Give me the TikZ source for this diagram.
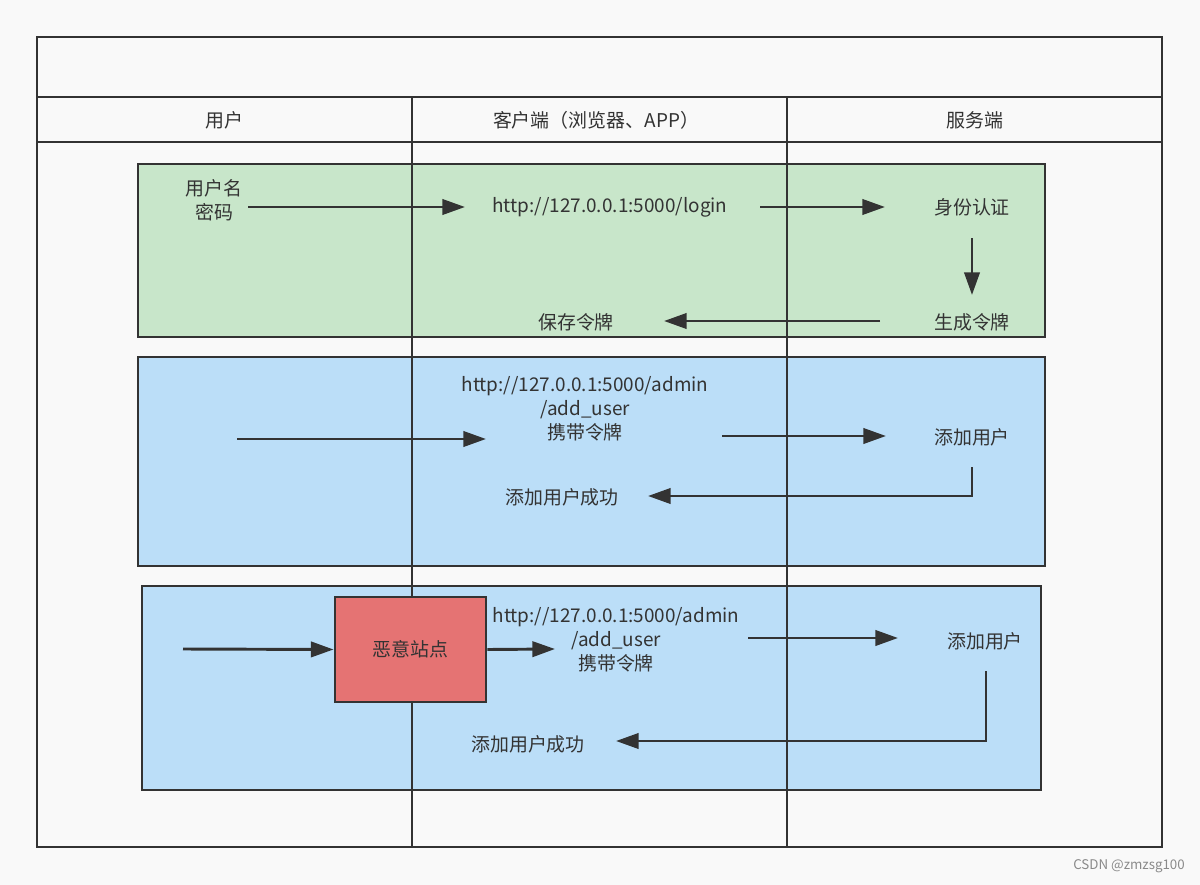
\documentclass[tikz,border=0pt]{standalone}
\usepackage{fontspec}
\setmainfont{Noto Sans CJK SC}
\usetikzlibrary{arrows.meta}
\definecolor{bg}{HTML}{F9F9F9}
\definecolor{ln}{HTML}{333333}
\definecolor{gfill}{HTML}{C8E6CA}
\definecolor{bfill}{HTML}{BBDEF8}
\definecolor{rfill}{HTML}{E57373}
\definecolor{wm}{HTML}{8A8A8A}
\tikzset{
  frame/.style={draw=ln, line width=2.2pt},
  lane/.style={draw=ln, line width=2.2pt},
  panel/.style={draw=ln, line width=2.2pt},
  txt/.style={font=\fontsize{14.2}{18}\selectfont, text=ln, align=center, inner sep=0pt},
  conn/.style={draw=ln, line width=2.2pt, -{Triangle[length=17pt,width=11.5pt]}},
}
\begin{document}
\begin{tikzpicture}[x=0.75pt,y=-0.75pt]
\useasboundingbox (0,0) rectangle (1200,885);
\fill[bg] (0,0) rectangle (1200,885);
% panels
\path[panel, fill=gfill] (138,164) rectangle (1045,337);
\path[panel, fill=bfill] (138,357) rectangle (1045,566);
\path[panel, fill=bfill] (142,586) rectangle (1041,790);
% frame and lanes
\path[frame] (37,37) rectangle (1162,847);
\path[lane] (37,97) -- (1162,97);
\path[lane] (37,142) -- (1162,142);
\path[lane] (412,97) -- (412,847);
\path[lane] (787,97) -- (787,847);
% headers
\node[txt] (h1) at (224,120) {用户};
\node[txt] (h2) at (596,120) {客户端（浏览器、APP）};
\node[txt] (h3) at (975,120) {服务端};
% panel 1
\node[txt] (up) at (214,200) {用户名\\密码};
\node[txt] (login) at (610,207) {http://127.0.0.1:5000/login};
\node[txt] (auth) at (972,207) {身份认证};
\node[txt] (gen) at (972,322) {生成令牌};
\node[txt] (save) at (576,322) {保存令牌};
\coordinate (a1s) at (248,207); \coordinate (a1e) at (465,207);
\coordinate (a2s) at (760,207); \coordinate (a2e) at (885,207);
\coordinate (a3s) at (972,238); \coordinate (a3e) at (972,295);
\coordinate (a4s) at (880,321); \coordinate (a4e) at (664,321);
\draw[conn] (a1s) -- (a1e);
\draw[conn] (a2s) -- (a2e);
\draw[conn] (a3s) -- (a3e);
\draw[conn] (a4s) -- (a4e);
% panel 2
\node[txt] (req2) at (585,409) {http://127.0.0.1:5000/admin\\/add\_user\\携带令牌};
\node[txt] (add2) at (972,437) {添加用户};
\node[txt] (ok2) at (562,497) {添加用户成功};
\coordinate (b1s) at (237,439); \coordinate (b1e) at (486,439);
\coordinate (b2s) at (722,436); \coordinate (b2e) at (886,436);
\coordinate (b3s) at (972,467); \coordinate (b3c) at (972,496); \coordinate (b3e) at (648,496);
\draw[conn] (b1s) -- (b1e);
\draw[conn] (b2s) -- (b2e);
\draw[conn] (b3s) -- (b3c) -- (b3e);
% panel 3
\node[panel, fill=rfill, minimum width=151*0.75pt, minimum height=105*0.75pt, inner sep=0pt] (evil) at (410.5,649.5) {};
\node[txt] at (evil.center) {恶意站点};
\node[txt] (req3) at (616,640) {http://127.0.0.1:5000/admin\\/add\_user\\携带令牌};
\node[txt] (add3) at (985,641) {添加用户};
\node[txt] (ok3) at (528,744) {添加用户成功};
\coordinate (c1s) at (183,649);
\coordinate (c2e) at (555,649);
\coordinate (c3s) at (748,638); \coordinate (c3e) at (898,638);
\coordinate (c4s) at (986,671); \coordinate (c4c) at (986,741); \coordinate (c4e) at (616,741);
\draw[conn] (c1s) -- (evil.west);
\draw[conn] (evil.east) -- (c2e);
\draw[conn] (c3s) -- (c3e);
\draw[conn] (c4s) -- (c4c) -- (c4e);
% watermark
\node[font=\fontsize{10}{12}\selectfont, text=wm, inner sep=0pt] (wmk) at (1129,866) {CSDN @zmzsg100};
\end{tikzpicture}
\end{document}
